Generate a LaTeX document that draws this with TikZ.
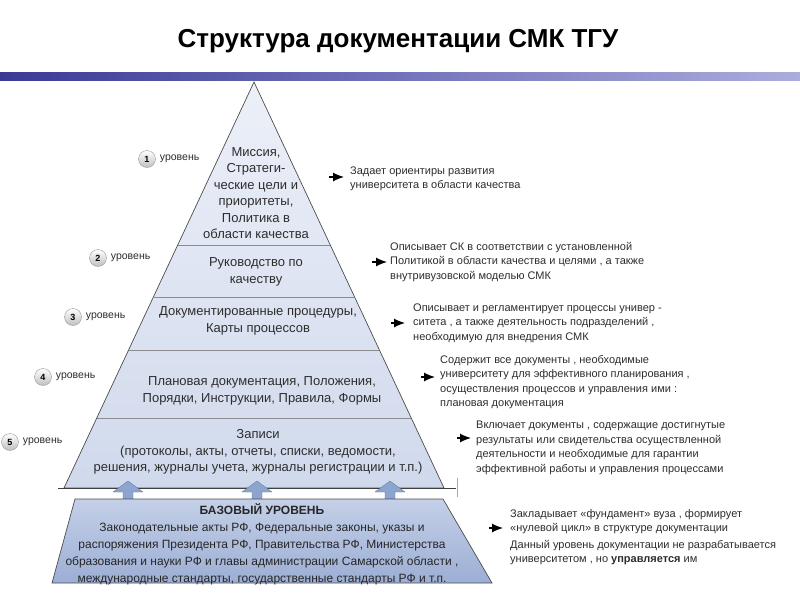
\documentclass[tikz,border=0pt]{standalone}
\usepackage{fontspec}
\setmainfont{Liberation Sans}
\usetikzlibrary{arrows.meta}
\usetikzlibrary{positioning}

\definecolor{barleft}{RGB}{58,58,150}
\definecolor{barright}{RGB}{172,172,222}
\definecolor{pyrtop}{RGB}{236,240,248}
\definecolor{pyrbot}{RGB}{208,217,236}
\definecolor{basetop}{RGB}{196,208,232}
\definecolor{basebot}{RGB}{156,174,212}
\definecolor{arrowblue}{RGB}{140,165,208}
\definecolor{txtgray}{RGB}{45,45,45}

\begin{document}
\begin{tikzpicture}[x=1pt, y=-1pt, font=\fontsize{13}{16.5}\selectfont,
  title/.style={font=\bfseries\fontsize{26}{26}\selectfont, inner sep=0pt},
  pyramid/.style={draw=black!70, line width=0.7pt, top color=pyrtop, bottom color=pyrbot},
  divider/.style={draw=black!45, line width=0.6pt},
  basebox/.style={draw=black!70, line width=0.7pt, top color=basetop, bottom color=basebot},
  level/.style={align=center, text=txtgray, inner sep=0pt},
  lvlnum/.style={circle, draw=black!40, inner sep=0pt, minimum size=17pt,
    top color=white, bottom color=black!25, font=\bfseries\fontsize{9}{9}\selectfont},
  lvltag/.style={font=\fontsize{10.5}{10.5}\selectfont, text=txtgray, inner sep=0pt},
  desc/.style={anchor=west, align=left, text=txtgray, inner sep=0pt,
    font=\fontsize{11}{14.5}\selectfont},
  pointer/.style={-{Latex[length=11pt,width=9pt]}, line width=1.2pt},
  uparrow/.style={fill=arrowblue, draw=arrowblue!70!black, line width=0.3pt}]

  \useasboundingbox (0,0) rectangle (800,600);

  % title and bar
  \node[title] (title) at (398,41) {Структура документации СМК ТГУ};
  \shade[left color=barleft, right color=barright] (0,72) rectangle (800,80);

  % pyramid
  \coordinate (apex) at (254,82);
  \coordinate (bl) at (64,488);
  \coordinate (br) at (444,488);
  \draw[pyramid] (apex) -- (br) -- (bl) -- cycle;
  \foreach \yy in {245,297,350,418} {
    \pgfmathsetmacro\hw{0.468*(\yy-82)}
    \draw[divider] ({254-\hw},\yy) -- ({254+\hw},\yy);
  }
  \draw[black!75, line width=0.9pt] (58,488) -- (456,488);
  \draw[black!35] (457,478) -- (457,497);

  \node[level] (l1) at (256,193) {Миссия,\\Стратеги-\\ческие цели и\\приоритеты,\\Политика в\\области качества};
  \node[level] (l2) at (256,272) {Руководство по\\качеству};
  \node[level] (l3) at (258,321) {Документированные процедуры,\\Карты процессов};
  \node[level] (l4) at (262,391) {Плановая документация, Положения,\\Порядки, Инструкции, Правила, Формы};
  \node[level] (l5) at (258,452) {Записи\\(протоколы, акты, отчеты, списки, ведомости,\\решения, журналы учета, журналы регистрации и т.п.)};

  % arrows from the base
  \foreach \c in {128,257,390}
    \draw[uparrow] ({\c-5},500) -- ({\c-5},492) -- ({\c-15},492) -- (\c,481)
      -- ({\c+15},492) -- ({\c+5},492) -- ({\c+5},500) -- cycle;

  % base level
  \draw[basebox] (75,499) -- (443,499) -- (492,583) -- (52,583) -- cycle;
  \node[level, text=black!85, font=\fontsize{12}{17}\selectfont] (base) at (262,544)
    {\textbf{БАЗОВЫЙ УРОВЕНЬ}\\Законодательные акты РФ, Федеральные законы, указы и\\распоряжения Президента РФ, Правительства РФ, Министерства\\образования и науки РФ и главы администрации Самарской области ,\\международные стандарты, государственные стандарты РФ и т.п.};

  % level numbers
  \node[lvlnum] (n1) at (147,159) {1};
  \node[lvltag, right=4pt of n1] (u1) {уровень};
  \node[lvlnum] (n2) at (98,258) {2};
  \node[lvltag, right=4pt of n2] (u2) {уровень};
  \node[lvlnum] (n3) at (73,317) {3};
  \node[lvltag, right=4pt of n3] (u3) {уровень};
  \node[lvlnum] (n4) at (43,377) {4};
  \node[lvltag, right=4pt of n4] (u4) {уровень};
  \node[lvlnum] (n5) at (10,442) {5};
  \node[lvltag, right=4pt of n5] (u5) {уровень};

  % descriptions
  \node[desc] (d1) at (350,179) {Задает ориентиры развития\\университета в области качества};
  \node[desc] (d2) at (390,262) {Описывает СК в соответствии с установленной\\Политикой в области качества и целями , а также\\внутривузовской моделью СМК};
  \node[desc] (d3) at (413,323) {Описывает и регламентирует процессы универ -\\ситета , а также деятельность подразделений ,\\необходимую для внедрения СМК};
  \node[desc] (d4) at (440,382) {Содержит все документы , необходимые\\университету для эффективного планирования ,\\осуществления процессов и управления ими :\\плановая документация};
  \node[desc] (d5) at (476,448) {Включает документы , содержащие достигнутые\\результаты или свидетельства осуществленной\\деятельности и необходимые для гарантии\\эффективной работы и управления процессами};
  \node[desc] (d6) at (510,537) {Закладывает «фундамент» вуза , формирует\\«нулевой цикл» в структуре документации\\[2pt]Данный уровень документации не разрабатывается\\университетом , но \textbf{управляется} им};

  \draw[pointer] ([xshift=-21pt,yshift=2pt]d1.west) -- ([xshift=-6pt,yshift=2pt]d1.west);
  \draw[pointer] ([xshift=-18pt]d2.west) -- ([xshift=-3pt]d2.west);
  \draw[pointer] ([xshift=-22pt]d3.west) -- ([xshift=-8pt]d3.west);
  \draw[pointer] ([xshift=-19pt,yshift=5pt]d4.west) -- ([xshift=-5pt,yshift=5pt]d4.west);
  \draw[pointer] ([xshift=-19pt,yshift=10pt]d5.west) -- ([xshift=-5pt,yshift=10pt]d5.west);
  \draw[pointer] ([xshift=-21pt,yshift=9pt]d6.west) -- ([xshift=-7pt,yshift=9pt]d6.west);
\end{tikzpicture}
\end{document}
